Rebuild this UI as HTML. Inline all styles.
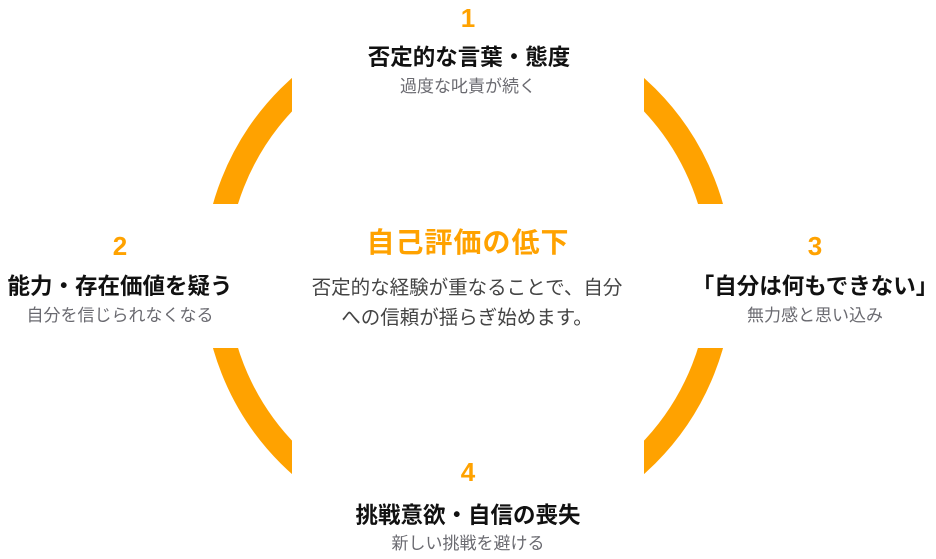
<!DOCTYPE html>
<html><head><meta charset="utf-8"><style>
body{margin:0;width:936px;height:559px;background:#fff;position:relative;overflow:hidden;font-family:"Liberation Sans","Noto Sans CJK JP",sans-serif}
.t{position:absolute;text-align:center;white-space:nowrap;transform:translateX(-50%)}
.n{color:#FFA200;font-weight:bold;font-size:26px;line-height:30px}
.h{color:#111;font-weight:bold;font-size:22.5px;line-height:28px}
.s{color:#6a6a70;font-size:17px;line-height:22px}
</style></head><body>
<svg width="936" height="559" style="position:absolute;left:0;top:0">
<defs><mask id="m"><rect width="936" height="559" fill="#fff"/><rect x="292" y="0" width="352" height="559" fill="#000"/><rect x="0" y="204" width="936" height="144" fill="#000"/></mask></defs>
<circle cx="468" cy="276" r="253" fill="none" stroke="#FFA200" stroke-width="24" mask="url(#m)"/>
</svg>
<div class="t n" style="left:468px;top:3px">1</div>
<div class="t h" style="left:469px;top:44px">否定的な言葉・態度</div>
<div class="t s" style="left:468px;top:76px">過度な叱責が続く</div>
<div class="t n" style="left:120px;top:231px">2</div>
<div class="t h" style="left:120px;top:273px">能力・存在価値を疑う</div>
<div class="t s" style="left:120px;top:305px">自分を信じられなくなる</div>
<div class="t n" style="left:815px;top:231px">3</div>
<div class="t h" style="left:815px;top:273px">「自分は何もできない」</div>
<div class="t s" style="left:815px;top:305px">無力感と思い込み</div>
<div class="t n" style="left:468px;top:457px">4</div>
<div class="t h" style="left:468px;top:502px">挑戦意欲・自信の喪失</div>
<div class="t s" style="left:468px;top:533px">新しい挑戦を避ける</div>
<div class="t" style="left:468px;top:226px;color:#FFA200;font-weight:bold;font-size:28px;line-height:34px;letter-spacing:1px">自己評価の低下</div>
<div class="t" style="left:467px;top:273px;color:#444;font-size:19.5px;line-height:30px">否定的な経験が重なることで、自分<br>への信頼が揺らぎ始めます。</div>
</body></html>
